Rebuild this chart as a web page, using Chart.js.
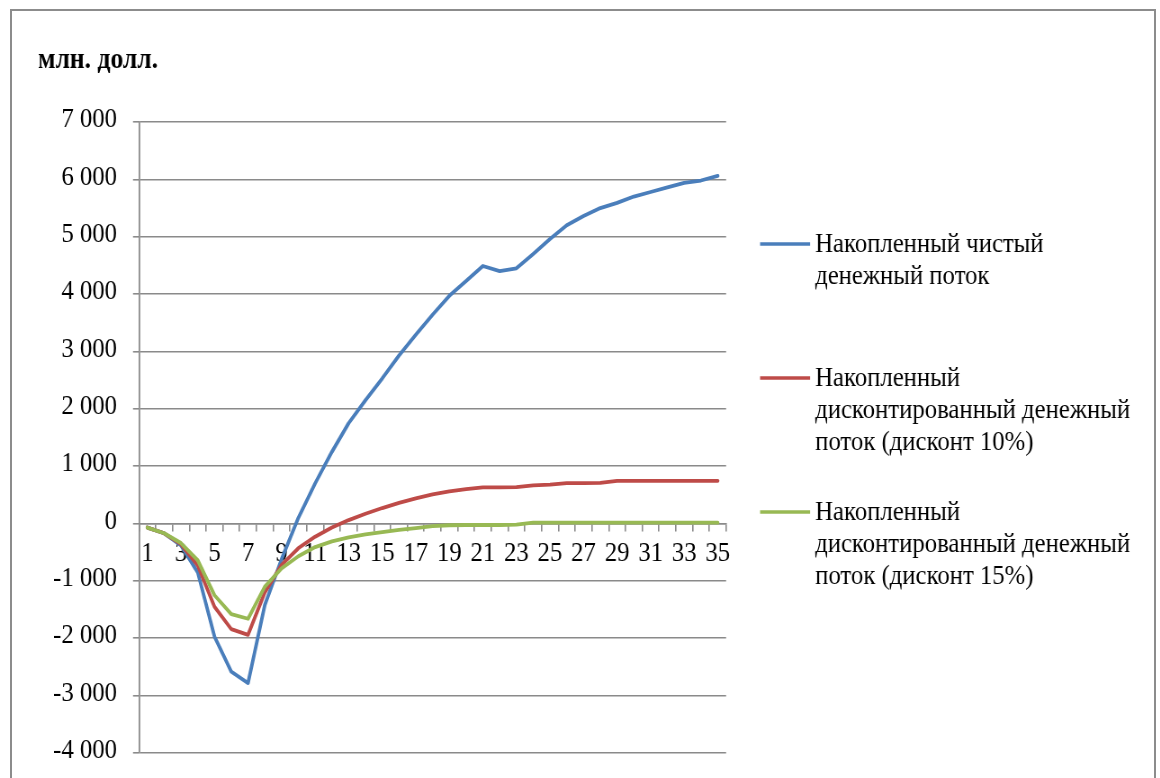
<!DOCTYPE html>
<html>
<head>
<meta charset="utf-8">
<script src="https://cdn.jsdelivr.net/npm/chart.js@4.4.1/dist/chart.umd.min.js"></script>
<style>
  html, body { margin: 0; padding: 0; background: #fff; overflow: hidden; }
  #wrap { position: relative; width: 1160px; height: 778px; overflow: hidden; }
  #frame { position: absolute; left: 10px; top: 9px; width: 1146px; height: 820px;
           border: 2px solid #8c8c8c; box-sizing: border-box; }
  /* the chart is laid out wider and condensed horizontally, like the narrow serif type */
  #c { position: absolute; left: 0; top: 0; transform: scaleX(0.9); transform-origin: 0 0; }
</style>
</head>
<body>
<div id="wrap">
  <div id="frame"></div>
  <canvas id="c" width="1289" height="778"></canvas>
</div>
<script>
// Project years
const periods = ['1','2','3','4','5','6','7','8','9','10','11','12','13','14','15','16','17','18',
                 '19','20','21','22','23','24','25','26','27','28','29','30','31','32','33','34','35'];

// Cumulative cash flows, mln USD
const cumulativeNet = [-70, -170, -380, -850, -1970, -2580, -2780, -1420, -620, 100,
                       700, 1250, 1750, 2150, 2530, 2930, 3290, 3640, 3970, 4230,
                       4490, 4400, 4450, 4700, 4960, 5200, 5360, 5500, 5590, 5700,
                       5780, 5860, 5940, 5980, 6060];
const cumulativeDisc10 = [-70, -170, -360, -730, -1450, -1840, -1940, -1200, -720, -430,
                          -230, -70, 60, 170, 270, 360, 440, 510, 560, 600,
                          630, 630, 635, 665, 680, 705, 705, 710, 745, 745,
                          745, 745, 745, 745, 745];
const cumulativeDisc15 = [-70, -170, -340, -640, -1250, -1580, -1660, -1100, -780, -570,
                          -410, -310, -240, -190, -150, -110, -80, -45, -30, -25,
                          -25, -25, -20, 15, 15, 15, 15, 15, 15, 15,
                          15, 15, 15, 15, 15];

// Series names, split into the lines shown in the legend
const seriesNames = [
  ['Накопленный чистый', 'денежный поток'],
  ['Накопленный', 'дисконтированный денежный', 'поток (дисконт 10%)'],
  ['Накопленный', 'дисконтированный денежный', 'поток (дисконт 15%)']
];
const seriesColors = ['#4a7ebb', '#be4b48', '#98b954'];

// Value axis
const yTickValues = [-4000, -3000, -2000, -1000, 0, 1000, 2000, 3000, 4000, 5000, 6000, 7000];
const unitLabel = 'млн. долл.';

const SX = 0.9;                       // horizontal condensing of the canvas
const FONT = '"Liberation Serif", "Times New Roman", serif';
const GRID = '#8a8a8a';

function fmtThousands(v) {
  const s = String(Math.abs(v)).replace(/\B(?=(\d{3})+(?!\d))/g, ' ');
  return (v < 0 ? '-' : '') + s;
}

const unitTitle = {
  id: 'unitTitle',
  afterDraw(chart) {
    const ctx = chart.ctx;
    ctx.save();
    ctx.font = 'bold 28.5px ' + FONT;
    ctx.fillStyle = '#000';
    ctx.textBaseline = 'alphabetic';
    ctx.textAlign = 'left';
    ctx.fillText(unitLabel, 38 / SX, 68);
    ctx.restore();
  }
};

const sideLegend = {
  id: 'sideLegend',
  afterDraw(chart) {
    const ctx = chart.ctx;
    const x0 = chart.chartArea.right + 34 / SX;
    ctx.save();
    chart.data.datasets.forEach((ds, i) => {
      const y0 = 244 + i * 134;
      ctx.strokeStyle = ds.borderColor;
      ctx.lineWidth = 3.5;
      ctx.lineCap = 'butt';
      ctx.beginPath();
      ctx.moveTo(x0, y0);
      ctx.lineTo(x0 + 50 / SX, y0);
      ctx.stroke();
      ctx.fillStyle = '#000';
      ctx.font = '27.5px ' + FONT;
      ctx.textBaseline = 'middle';
      ctx.textAlign = 'left';
      seriesNames[i].forEach((line, j) => ctx.fillText(line, x0 + 55 / SX, y0 + 1 + j * 31.7));
    });
    ctx.restore();
  }
};

const seriesData = [cumulativeNet, cumulativeDisc10, cumulativeDisc15];

new Chart(document.getElementById('c'), {
  type: 'line',
  data: {
    labels: periods,
    datasets: seriesData.map((d, i) => ({
      label: seriesNames[i].join(' '),
      data: d,
      borderColor: seriesColors[i],
      backgroundColor: seriesColors[i],
      order: 2 - i
    }))
  },
  options: {
    responsive: false,
    animation: false,
    devicePixelRatio: 1,
    layout: { padding: { left: 0, right: (1160 - 726) / SX, top: 122, bottom: 25 } },
    plugins: {
      legend: { display: false },
      tooltip: { enabled: false },
      title: { display: false }
    },
    elements: {
      point: { radius: 0, hoverRadius: 0 },
      line: { tension: 0, borderWidth: 3.8, borderCapStyle: 'round', borderJoinStyle: 'round' }
    },
    scales: {
      x: {
        type: 'category',
        offset: true,
        position: { y: 0 },
        grid: { display: true, drawOnChartArea: false, drawTicks: true, tickLength: 7,
                offset: true, color: GRID, lineWidth: 1.6 },
        border: { display: true, color: GRID, width: 1.6 },
        ticks: {
          autoSkip: false, maxRotation: 0, minRotation: 0, padding: 6.5,
          color: '#000', font: { family: FONT, size: 27.5 },
          callback: (v, i) => (i % 2 === 0 ? periods[i] : '')
        }
      },
      y: {
        min: -4000,
        max: 7000,
        afterFit(scale) {
          scale.width = 139 / SX;
          scale.paddingTop = 0;
          scale.paddingBottom = 0;
        },
        afterBuildTicks(scale) { scale.ticks = yTickValues.map(v => ({ value: v })); },
        grid: { color: GRID, lineWidth: 1.6, drawTicks: true, tickLength: 6 / SX },
        border: { display: true, color: GRID, width: 1.6 / SX },
        ticks: {
          padding: 16 / SX, labelOffset: -2, color: '#000',
          font: { family: FONT, size: 27.5 },
          callback: v => fmtThousands(v)
        }
      }
    }
  },
  plugins: [unitTitle, sideLegend]
});
</script>
</body>
</html>
